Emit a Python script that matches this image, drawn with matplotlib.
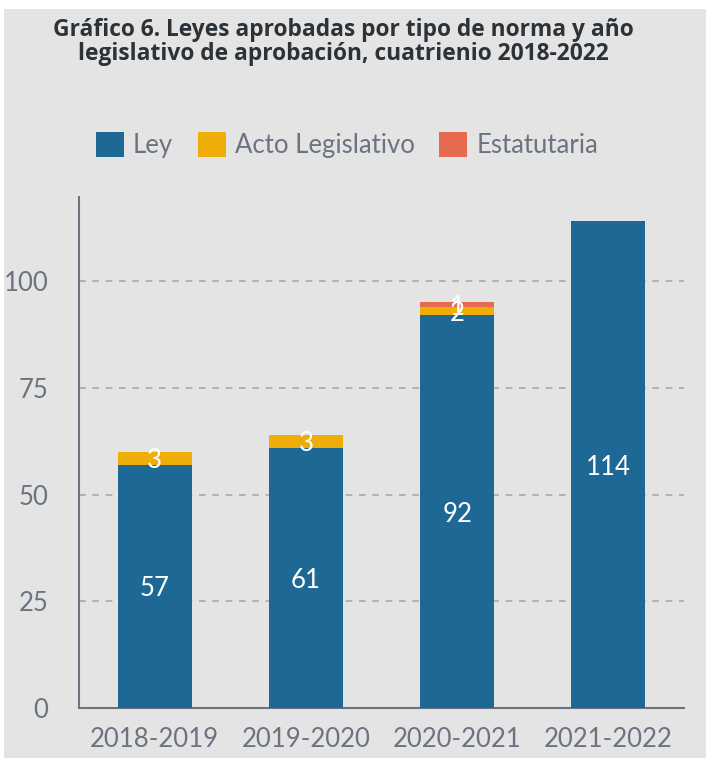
import numpy as np
import matplotlib
matplotlib.use("Agg")
import matplotlib.pyplot as plt

# datos
periodos = ["2018-2019", "2019-2020", "2020-2021", "2021-2022"]
ley = [57, 61, 92, 114]
acto = [3, 3, 2, 0]
estatutaria = [0, 0, 1, 0]
series_nombres = ["Ley", "Acto Legislativo", "Estatutaria"]
colores = ["#1d6894", "#efad08", "#e66b4e"]

fondo = "#e4e4e4"
gris = "#6b7480"

plt.rcParams['font.family'] = ['Lato', 'DejaVu Sans']

fig = plt.figure(figsize=(7.06, 7.58), dpi=100)
fig.patch.set_facecolor("white")
# fondo gris con borde blanco
fig.add_artist(plt.Rectangle((4/706, 0), 1, 1 - 9/758, transform=fig.transFigure,
                             facecolor=fondo, edgecolor="none", zorder=-10))

ax = fig.add_axes([79/706, 50/758, (684 - 79)/706, (708 - 197)/758])
ax.set_facecolor(fondo)

x = np.arange(len(periodos))
ancho = 0.49
abajo = np.zeros(len(periodos))
for nombre, vals, col in zip(series_nombres, [ley, acto, estatutaria], colores):
    vals = np.array(vals, dtype=float)
    ax.bar(x, vals, ancho, bottom=abajo, color=col, label=nombre, zorder=3)
    for xi, b, v in zip(x, abajo, vals):
        if v > 0:
            ax.text(xi, b + v / 2 - 0.6, f"{int(v)}", ha="center", va="center",
                    color="white", fontsize=18.5, zorder=4)
    abajo += vals

ax.set_xlim(-0.5, 3.5)
ax.set_ylim(0, 119.7)
ax.set_yticks([0, 25, 50, 75, 100])
ax.yaxis.grid(True, linestyle=(0, (4, 4)), color="#a8a8a8", linewidth=1.2, zorder=0)
ax.set_axisbelow(True)
ax.set_xticks(x)
ax.set_xticklabels(periodos)
ax.tick_params(axis="both", length=0, labelsize=18.5, colors=gris)
ax.tick_params(axis="y", pad=22)
ax.tick_params(axis="x", pad=14)
for s in ["top", "right"]:
    ax.spines[s].set_visible(False)
for s in ["left", "bottom"]:
    ax.spines[s].set_color(gris)
    ax.spines[s].set_linewidth(1.5)

leg = fig.legend(loc="center", bbox_to_anchor=(347/706, 1 - 145/758), ncol=3,
                 frameon=False, fontsize=18.5, handlelength=1.1, handleheight=1.1,
                 columnspacing=0.95, handletextpad=0.35)
for t in leg.get_texts():
    t.set_color(gris)

fig.text(343/706, 1 - 42/758,
         "Gráfico 6. Leyes aprobadas por tipo de norma y año\nlegislativo de aprobación, cuatrienio 2018-2022",
         ha="center", va="center", fontsize=16.4, fontweight="bold", color="#2b3238",
         linespacing=0.95, family=["Open Sans", "DejaVu Sans"])

fig.savefig("out.png", dpi=100, facecolor=fig.get_facecolor())
